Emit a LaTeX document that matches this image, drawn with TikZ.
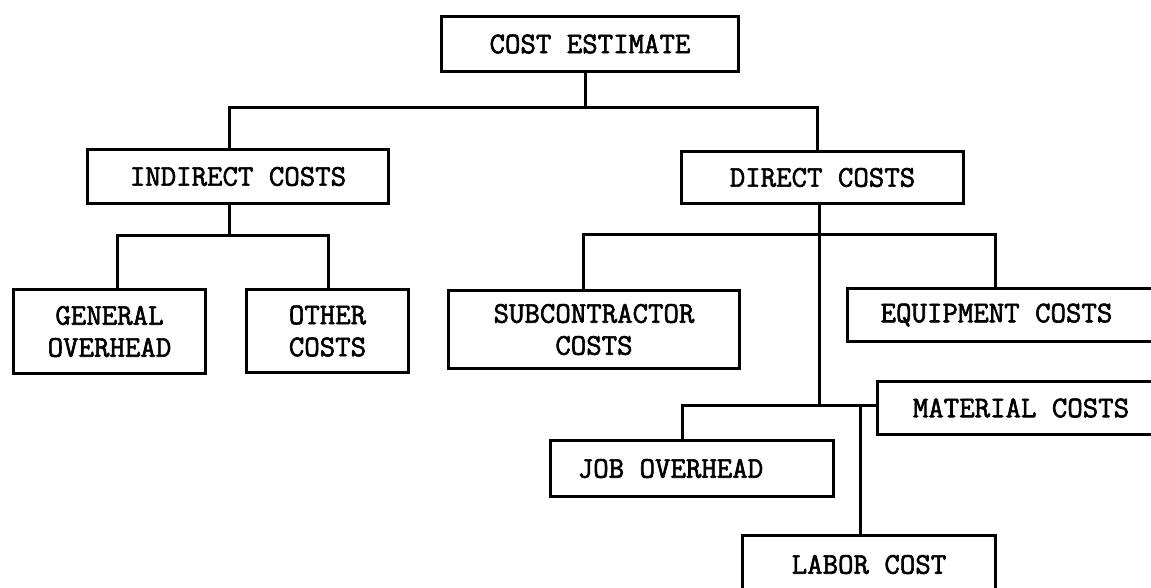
\documentclass[tikz,border=0pt]{standalone}
\usepackage{fontspec}
\setmonofont{Latin Modern Mono}[FakeBold=2]
\newcommand{\twfont}{\ttfamily\fontsize{30}{32}\selectfont}
\begin{document}
\begin{tikzpicture}[x=1pt,y=-1pt,
  box/.style={draw, line width=3pt, inner sep=0pt, font=\twfont, align=center, anchor=north west},
  conn/.style={line width=3pt, line cap=rect, line join=miter}]
\useasboundingbox (0,0) rectangle (1151,587);
\clip (0,0) rectangle (1151,587);
\fill[white] (0,0) rectangle (1151,587);

\node[box, minimum width=297pt, minimum height=55pt] (est) at (440,15) {COST ESTIMATE};
\node[box, minimum width=301pt, minimum height=54pt] (ind) at (86,148) {INDIRECT COSTS};
\node[box, minimum width=282pt, minimum height=52pt] (dir) at (680,150) {DIRECT COSTS};
\node[box, minimum width=192pt, minimum height=84pt] (gen) at (12,288) {GENERAL\\OVERHEAD};
\node[box, minimum width=162pt, minimum height=83pt] (oth) at (245,288) {OTHER\\COSTS};
\node[box, minimum width=291pt, minimum height=78pt] (sub) at (447,289) {SUBCONTRACTOR\\COSTS};
\node[box, minimum width=360pt, minimum height=53pt] (equ) at (846,287) {EQUIPMENT COSTS\hspace*{62pt}};
\node[box, minimum width=360pt, minimum height=53pt] (mat) at (876,380) {MATERIAL COSTS\hspace*{73pt}};
\node[box, minimum width=283pt, minimum height=56pt] (job) at (549,439) {JOB OVERHEAD\hspace*{43pt}};
\node[box, minimum width=253pt, minimum height=58pt] (lab) at (741,534) {LABOR COST};

\coordinate (t1) at (585,107);
\coordinate (tL) at (229,107);
\coordinate (tR) at (817,107);
\draw[conn] (est.south -| t1) -- (t1);
\draw[conn] (ind.north -| tL) -- (tL) -- (tR) -- (dir.north -| tR);

\coordinate (i1) at (229,235);
\coordinate (iL) at (117,235);
\coordinate (iR) at (328,235);
\draw[conn] (ind.south -| i1) -- (i1);
\draw[conn] (gen.north -| iL) -- (iL) -- (iR) -- (oth.north -| iR);

\coordinate (dL) at (583,234);
\coordinate (dR) at (995,234);
\coordinate (dJ) at (819,405);
\coordinate (jL) at (682,405);
\coordinate (lJ) at (860,405);
\draw[conn] (dir.south -| dJ) -- (dJ);
\draw[conn] (sub.north -| dL) -- (dL) -- (dR) -- (equ.north -| dR);
\draw[conn] (job.north -| jL) -- (jL) -- (jL -| mat.west);
\draw[conn] (lJ) -- (lab.north -| lJ);
\end{tikzpicture}
\end{document}
